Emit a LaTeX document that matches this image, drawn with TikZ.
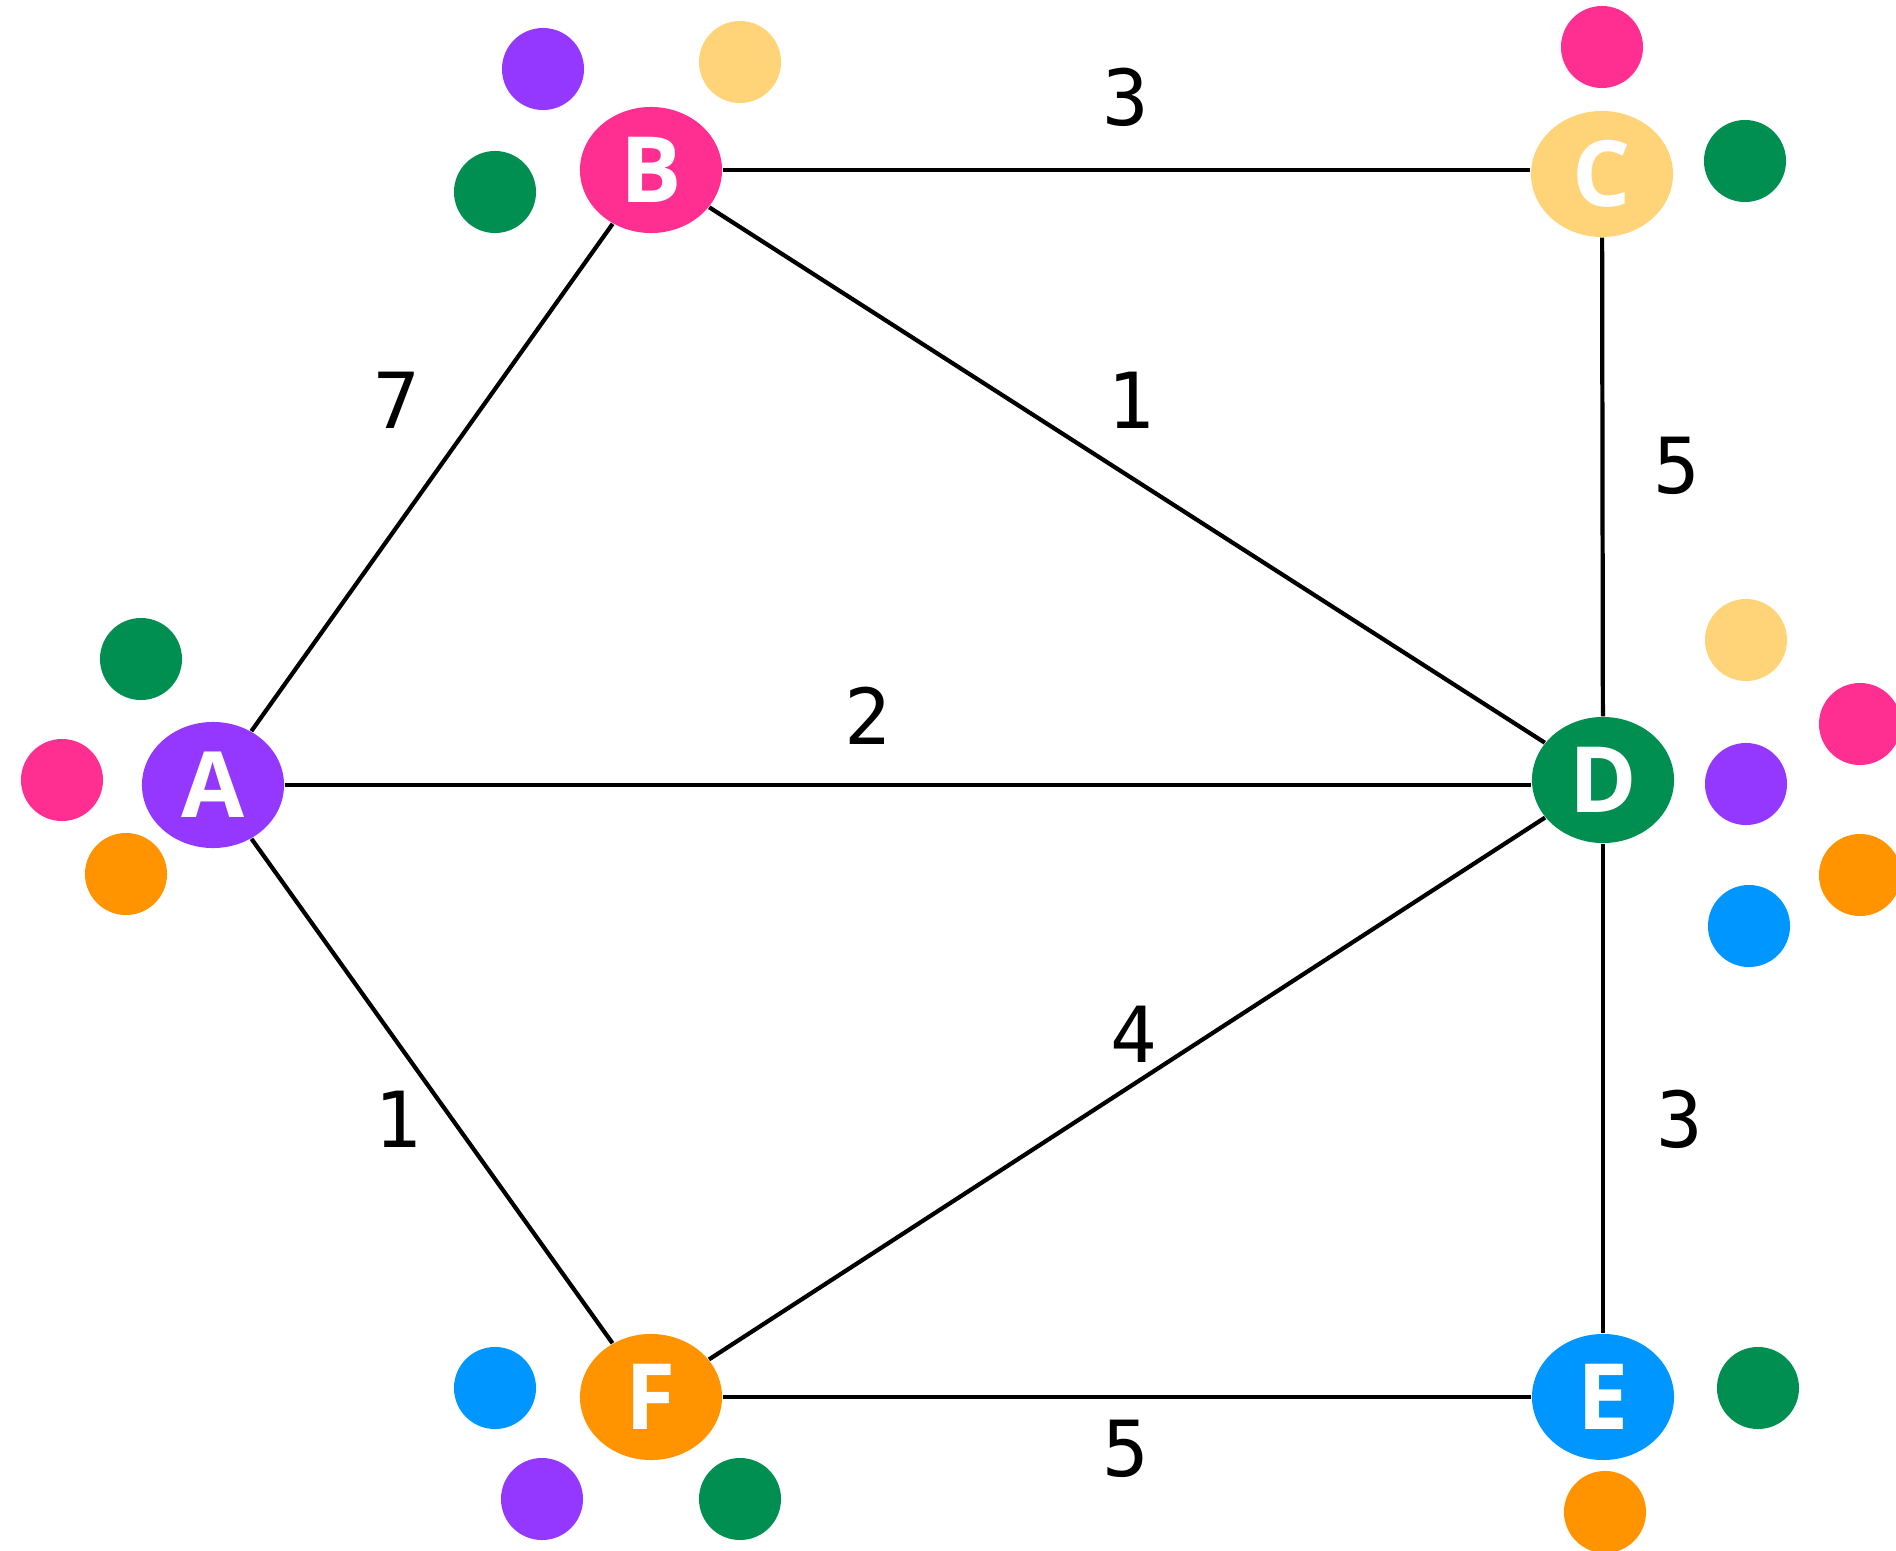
\documentclass[tikz,border=0pt]{standalone}
\usepackage{fontspec}
\setmainfont{Open Sans}
\newfontfamily\digitfont{DejaVu Sans Mono}
\usetikzlibrary{shapes.geometric}
\definecolor{grape}{HTML}{9437FF}
\definecolor{rose}{HTML}{FF2F92}
\definecolor{moss}{HTML}{008F51}
\definecolor{sand}{HTML}{FFD479}
\definecolor{tang}{HTML}{FF9300}
\definecolor{aqua}{HTML}{0096FF}

\begin{document}
\begin{tikzpicture}[
    x=0.01cm, y=-0.01cm,
    vert/.style={ellipse, minimum width=1.42cm, minimum height=1.26cm, inner sep=0pt, text=white, font=\fontsize{26}{26}\selectfont\bfseries},
    dot/.style={circle, minimum size=0.82cm, inner sep=0pt},
    edge/.style={line width=1.2pt},
    wt/.style={font=\digitfont\fontsize{22}{22}\selectfont}
]
\useasboundingbox (0,0) rectangle (1896,1551);

% colour dots
\node[dot, fill=moss] (a1) at (141,659) {};
\node[dot, fill=rose] (a2) at (62,780) {};
\node[dot, fill=tang] (a3) at (126,874) {};
\node[dot, fill=grape] (b1) at (543,69) {};
\node[dot, fill=sand] (b2) at (740,62) {};
\node[dot, fill=moss] (b3) at (495,192) {};
\node[dot, fill=rose] (c1) at (1602,47) {};
\node[dot, fill=moss] (c2) at (1745,161) {};
\node[dot, fill=sand] (d1) at (1746,640) {};
\node[dot, fill=rose] (d2) at (1860,724) {};
\node[dot, fill=grape] (d3) at (1746,784) {};
\node[dot, fill=tang] (d4) at (1860,875) {};
\node[dot, fill=aqua] (d5) at (1749,926) {};
\node[dot, fill=moss] (e1) at (1758,1388) {};
\node[dot, fill=tang] (e2) at (1605,1512) {};
\node[dot, fill=aqua] (f1) at (495,1388) {};
\node[dot, fill=grape] (f2) at (542,1499) {};
\node[dot, fill=moss] (f3) at (740,1499) {};

% vertices
\node[vert, fill=grape] (A) at (213,785) {A};
\node[vert, fill=rose] (B) at (651,170) {B};
\node[vert, fill=sand] (C) at (1602,174) {C};
\node[vert, fill=moss] (D) at (1603,780) {D};
\node[vert, fill=aqua] (E) at (1603,1397) {E};
\node[vert, fill=tang] (F) at (651,1397) {F};

% edges
\draw[edge] (A) -- (B);
\draw[edge] (B.east) -- (C.west |- B.east);
\draw[edge] (B) -- (D);
\draw[edge] (A.east) -- (D.west |- A.east);
\draw[edge] (A) -- (F);
\draw[edge] (F) -- (D);
\draw[edge] (F) -- (E);
\draw[edge] (C) -- (D);
\draw[edge] (D) -- (E);

% weights
\node[wt] (wbc) at (1126,97) {3};
\node[wt] (wab) at (397,400) {7};
\node[wt] (wbd) at (1131,400) {1};
\node[wt] (wcd) at (1677,466) {5};
\node[wt] (wad) at (868,716) {2};
\node[wt] (wfd) at (1134,1034) {4};
\node[wt] (waf) at (398,1119) {1};
\node[wt] (wde) at (1680,1119) {3};
\node[wt] (wfe) at (1126,1449) {5};

\end{tikzpicture}
\end{document}
